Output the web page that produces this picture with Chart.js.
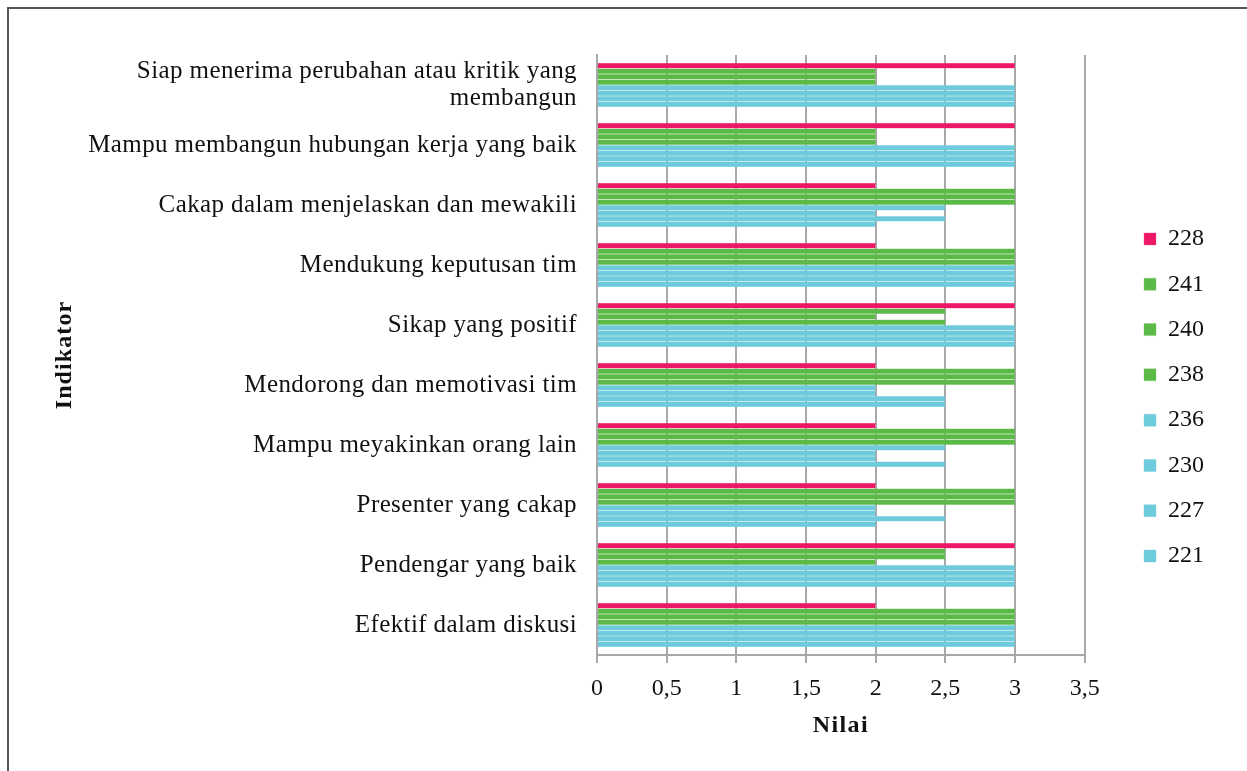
<!DOCTYPE html>
<html>
<head>
<meta charset="utf-8">
<script src="https://cdn.jsdelivr.net/npm/chart.js@4"></script>
<style>
    html, body { margin: 0; padding: 0; background: #fff; overflow: hidden; }
    #frame {
        position: absolute; left: 7px; top: 7px; width: 1400px; height: 900px;
        border-left: 2px solid #555; border-top: 2px solid #555;
    }
    #wrap { position: absolute; left: 0; top: 0; width: 1247px; height: 771px; }
</style>
</head>
<body>
<div id="frame"></div>
<div id="wrap"><canvas id="chart" width="1247" height="771"></canvas></div>
<script>
// categories, top to bottom
const categories = [
    ['Siap menerima perubahan atau kritik yang', 'membangun'],
    'Mampu membangun hubungan kerja yang baik',
    'Cakap dalam menjelaskan dan mewakili',
    'Mendukung keputusan tim',
    'Sikap yang positif',
    'Mendorong dan memotivasi tim',
    'Mampu meyakinkan orang lain',
    'Presenter yang cakap',
    'Pendengar yang baik',
    'Efektif dalam diskusi'
];

const seriesNames = ['228', '241', '240', '238', '236', '230', '227', '221'];

// one array per series, values in category order
const s228 = [3, 3, 2, 2, 3, 2, 2, 2, 3, 2];
const s241 = [2, 2, 3, 3, 2.5, 3, 3, 3, 2.5, 3];
const s240 = [2, 2, 3, 3, 2, 3, 3, 3, 2.5, 3];
const s238 = [2, 2, 3, 3, 2.5, 3, 3, 3, 2, 3];
const s236 = [3, 3, 2.5, 3, 3, 2, 2.5, 2, 3, 3];
const s230 = [3, 3, 2, 3, 3, 2, 2, 2, 3, 3];
const s227 = [3, 3, 2.5, 3, 3, 2.5, 2, 2.5, 3, 3];
const s221 = [3, 3, 2, 3, 3, 2.5, 2.5, 2, 3, 3];

const xTicks = [0, 0.5, 1, 1.5, 2, 2.5, 3, 3.5];

const PINK = '#ED1766';
const GREEN = '#5BB947';
const CYAN = '#6ECBDC';

const allSeries = [s228, s241, s240, s238, s236, s230, s227, s221];
const colors = [PINK, GREEN, GREEN, GREEN, CYAN, CYAN, CYAN, CYAN];
const edges = ['#F25A8E', '#7CC96A', '#7CC96A', '#7CC96A', '#78CFDF', '#78CFDF', '#78CFDF', '#78CFDF'];

const serif = "'Liberation Serif', 'Times New Roman', serif";
const GRID = '#a8a8a8';

// the original text is a little wider than Liberation Serif, so space it out
function spaceText(scale, labelGap, titleGap) {
    if (scale._spaced) return;
    scale._spaced = true;
    const dl = scale.drawLabels, dt = scale.drawTitle;
    scale.drawLabels = function (area) {
        this.ctx.save();
        this.ctx.letterSpacing = labelGap;
        dl.call(this, area);
        this.ctx.restore();
    };
    scale.drawTitle = function (area) {
        this.ctx.save();
        this.ctx.letterSpacing = titleGap;
        dt.call(this, area);
        this.ctx.restore();
    };
}

const ctx = document.getElementById('chart').getContext('2d');
new Chart(ctx, {
    type: 'bar',
    data: {
        labels: categories,
        datasets: allSeries.map((vals, i) => ({
            label: seriesNames[i],
            data: vals,
            backgroundColor: colors[i],
            borderColor: edges[i],
            borderWidth: 0.4,
            barPercentage: 1,
            categoryPercentage: 0.735
        }))
    },
    options: {
        indexAxis: 'y',
        responsive: false,
        animation: false,
        layout: { padding: { left: 40, top: 55, bottom: 31, right: 33 } },
        plugins: {
            tooltip: { enabled: false },
            legend: {
                position: 'right',
                labels: {
                    font: { family: serif, size: 24 },
                    color: '#111',
                    boxWidth: 12,
                    boxHeight: 12,
                    padding: 21.3
                }
            }
        },
        scales: {
            x: {
                min: 0,
                max: 3.5,
                afterBuildTicks: s => { s.ticks = xTicks.map(v => ({ value: v })); },
                afterFit: s => { s.height = 85; spaceText(s, '0px', '1.4px'); },
                grid: { color: GRID, lineWidth: 2, tickLength: 8 },
                border: { color: GRID, width: 2 },
                ticks: {
                    padding: 11,
                    color: '#111',
                    font: { family: serif, size: 24 },
                    callback: v => String(v).replace('.', ',')
                },
                title: {
                    display: true,
                    text: 'Nilai',
                    color: '#111',
                    font: { family: serif, size: 24, weight: 'bold' },
                    padding: { top: 0, bottom: 0 }
                }
            },
            y: {
                afterFit: s => { s.width = 557; spaceText(s, '0.4px', '1.1px'); },
                grid: { display: false, drawTicks: false },
                border: { color: GRID, width: 2 },
                ticks: {
                    padding: 20,
                    color: '#111',
                    font: { family: serif, size: 25, lineHeight: 1.05 }
                },
                title: {
                    display: true,
                    text: 'Indikator',
                    color: '#111',
                    font: { family: serif, size: 24, weight: 'bold' },
                    padding: { top: 10, bottom: 0 }
                }
            },
            // empty spacer between the plot and the legend
            gap: {
                type: 'category',
                axis: 'y',
                position: 'right',
                afterFit: s => { s.width = 38; },
                grid: { display: false, drawTicks: false },
                border: { display: false },
                ticks: { display: false }
            }
        }
    }
});
</script>
</body>
</html>
